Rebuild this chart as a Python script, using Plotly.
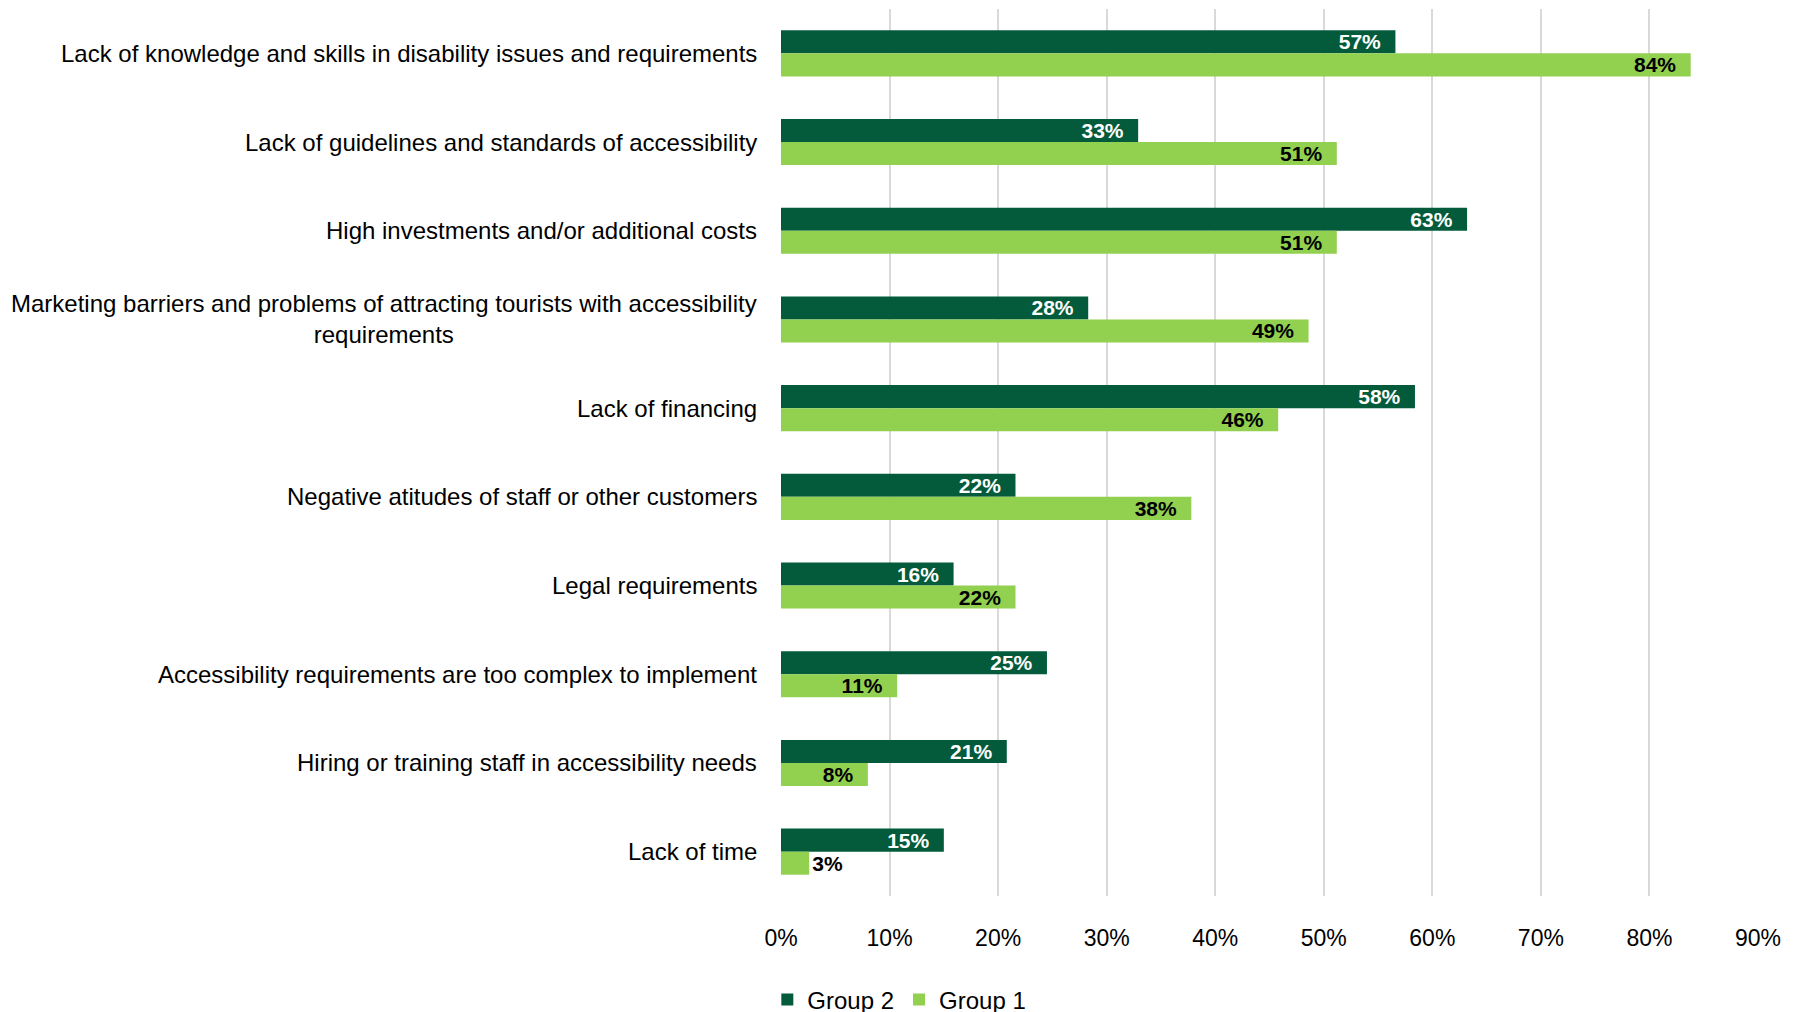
import plotly.graph_objects as go

categories = [
    "Lack of knowledge and skills in disability issues and requirements",
    "Lack of guidelines and standards of accessibility",
    "High investments and/or additional costs",
    "Marketing barriers and problems of attracting tourists with accessibility<br>requirements",
    "Lack of financing",
    "Negative atitudes of staff or other customers",
    "Legal requirements",
    "Accessibility requirements are too complex to implement",
    "Hiring or training staff in accessibility needs",
    "Lack of time",
]
group2 = [56.6, 32.9, 63.2, 28.3, 58.4, 21.6, 15.9, 24.5, 20.8, 15.0]
group1 = [83.8, 51.2, 51.2, 48.6, 45.8, 37.8, 21.6, 10.7, 8.0, 2.6]
labels2 = ["57%", "33%", "63%", "28%", "58%", "22%", "16%", "25%", "21%", "15%"]
labels1 = ["84%", "51%", "51%", "49%", "46%", "38%", "22%", "11%", "8%", "3%"]
tick_vals = [0, 10, 20, 30, 40, 50, 60, 70, 80, 90]
tick_text = ["0%", "10%", "20%", "30%", "40%", "50%", "60%", "70%", "80%", "90%"]

DARK = "#035B3B"
LIGHT = "#92D050"
FONT = "Liberation Sans, Arial, sans-serif"
PAD = "\u00a0\u00a0"

def positions(vals):
    return ["inside" if v >= 5 else "outside" for v in vals]

def padded(labels, vals):
    return [f"{t}{PAD}" if v >= 5 else t for t, v in zip(labels, vals)]

fig = go.Figure()
fig.add_trace(go.Bar(
    name="Group 2", y=categories, x=group2, orientation="h",
    marker=dict(color=DARK, line=dict(width=0)),
    text=padded(labels2, group2),
    textposition=positions(group2), insidetextanchor="end", constraintext="none",
    textfont=dict(family=FONT, size=21, color="white", weight="bold"),
    outsidetextfont=dict(family=FONT, size=21, color="black", weight="bold"),
    cliponaxis=False,
))
fig.add_trace(go.Bar(
    name="Group 1", y=categories, x=group1, orientation="h",
    marker=dict(color=LIGHT, line=dict(width=0)),
    text=padded(labels1, group1),
    textposition=positions(group1), insidetextanchor="end", constraintext="none",
    textfont=dict(family=FONT, size=21, color="black", weight="bold"),
    outsidetextfont=dict(family=FONT, size=21, color="black", weight="bold"),
    cliponaxis=False,
))

for c in categories:
    fig.add_annotation(
        x=0, xref="paper", y=c, yref="y", text=c, showarrow=False,
        xanchor="right", xshift=-22, align="center",
        font=dict(family=FONT, size=24, color="black"),
    )

fig.update_layout(
    width=1802, height=1012,
    margin=dict(l=773, r=52, t=1, b=124, autoexpand=False),
    paper_bgcolor="white", plot_bgcolor="white",
    barmode="group", bargap=0.48, bargroupgap=0,
    font=dict(family=FONT, size=24, color="black"),
    showlegend=True,
    legend=dict(orientation="h", x=-0.014, xanchor="left", y=-0.117, yanchor="middle",
                font=dict(family=FONT, size=24, color="black"),
                itemwidth=30, tracegroupgap=0),
)
fig.update_xaxes(range=[0, 90], tickvals=tick_vals, ticktext=tick_text,
                 showgrid=True, gridcolor="#D9D9D9", gridwidth=2,
                 zeroline=False, showline=False, ticks="",
                 ticklabelstandoff=26,
                 tickfont=dict(family=FONT, size=23, color="black"))
fig.update_yaxes(autorange="reversed", showticklabels=False, showgrid=False,
                 zeroline=False, showline=False, ticks="")

fig.write_html("out.html")
